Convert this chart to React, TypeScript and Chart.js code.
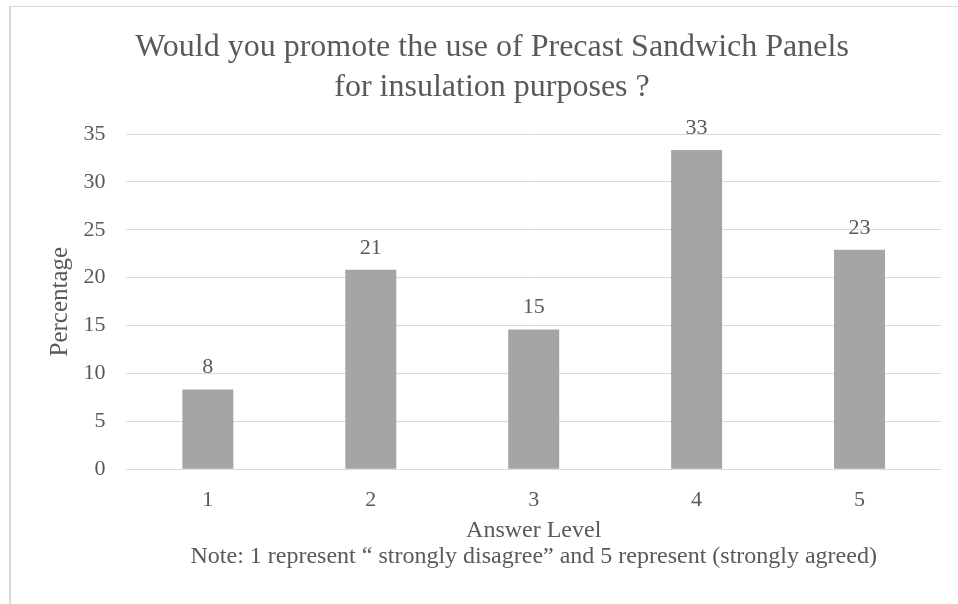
import React, { useEffect, useRef } from "react";
import { Chart, registerables } from "chart.js";

Chart.register(...registerables);

const categories = ["1", "2", "3", "4", "5"];
const percentages = [8.33, 20.83, 14.58, 33.33, 22.92];
const titleLines = ["Would you promote the use of Precast Sandwich Panels", "for insulation purposes ?"];
const xTitleLines = ["Answer Level", "Note: 1 represent \u201c strongly disagree\u201d and 5 represent (strongly agreed)"];
const yTitle = "Percentage";

const FONT = "'Liberation Serif', 'Times New Roman', serif";
const TEXT = "#595959";
const GRID = "#d9d9d9";
const BAR = "#a5a5a5";

const dataLabels = {
  id: "dataLabels",
  afterDatasetsDraw(chart: any) {
    const { ctx } = chart;
    const meta = chart.getDatasetMeta(0);
    ctx.save();
    ctx.font = `22px ${FONT}`;
    ctx.fillStyle = TEXT;
    ctx.textAlign = "center";
    ctx.textBaseline = "middle";
    meta.data.forEach((el: any, i: number) => {
      const v = chart.data.datasets[0].data[i] as number;
      ctx.fillText(String(Math.round(v)), el.x, el.y - 22);
    });
    ctx.restore();
  },
};

export default function App() {
  const ref = useRef<HTMLCanvasElement | null>(null);
  useEffect(() => {
    if (!ref.current) return;
    const chart = new Chart(ref.current, {
      type: "bar",
      data: {
        labels: categories,
        datasets: [
          {
            data: percentages,
            backgroundColor: BAR,
            borderWidth: 0,
            barPercentage: 1,
            categoryPercentage: 0.313,
          },
        ],
      },
      options: {
        responsive: false,
        animation: false,
        devicePixelRatio: 1,
        layout: { padding: { left: 43, right: 17, top: 0, bottom: 0 } },
        plugins: {
          legend: { display: false },
          tooltip: { enabled: false },
          title: {
            display: true,
            text: titleLines,
            color: TEXT,
            font: { family: FONT, size: 32, weight: "normal", lineHeight: 1.25 },
            padding: { top: 28, bottom: 26 },
          },
        },
        scales: {
          x: {
            grid: { display: false, drawTicks: false },
            border: { display: false },
            ticks: {
              color: TEXT,
              font: { family: FONT, size: 22 },
              padding: 18,
              maxRotation: 0,
            },
            title: {
              display: true,
              text: xTitleLines,
              color: TEXT,
              font: { family: FONT, size: 24, lineHeight: 1.1 },
              padding: { top: 0, bottom: 34 },
            },
            afterFit(scale: any) {
              scale.height = 134.7;
            },
          },
          y: {
            min: 0,
            max: 35,
            ticks: {
              stepSize: 5,
              color: TEXT,
              font: { family: FONT, size: 22 },
              padding: 21,
            },
            grid: { color: GRID, lineWidth: 1, drawTicks: false },
            border: { display: false },
            title: {
              display: true,
              text: yTitle,
              color: TEXT,
              font: { family: FONT, size: 25, lineHeight: 1.2 },
              padding: { top: 2, bottom: 0 },
            },
            afterFit(scale: any) {
              scale.width = 126.4 - 43;
            },
          },
        },
      },
      plugins: [dataLabels],
    });
    return () => chart.destroy();
  }, []);

  return (
    <div style={{ position: "fixed", left: 0, top: 0, width: 958, height: 604, overflow: "hidden", background: "#fff" }}>
      <div
        style={{
          position: "absolute",
          left: 9,
          top: 6,
          width: 1000,
          height: 700,
          borderTop: `1px solid ${GRID}`,
          borderLeft: `2px solid ${GRID}`,
          boxSizing: "border-box",
        }}
      />
      <canvas ref={ref} width={958} height={604} style={{ position: "absolute", left: 0, top: 0, width: 958, height: 604 }} />
    </div>
  );
}
